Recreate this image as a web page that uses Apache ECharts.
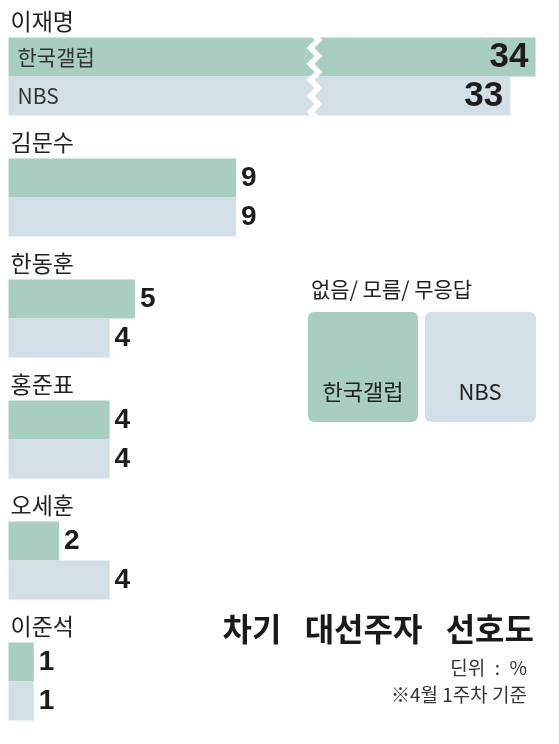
<!DOCTYPE html>
<html>
<head>
<meta charset="utf-8">
<script src="https://cdn.jsdelivr.net/npm/echarts@6/dist/echarts.min.js"></script>
<style>
html, body { margin: 0; padding: 0; background: #fff; }
#ech { width: 559px; height: 744px; }
</style>
</head>
<body>
<div id="ech"></div>
<script>
var candidates = ['이재명', '김문수', '한동훈', '홍준표', '오세훈', '이준석'];
var gallup = [34, 9, 5, 4, 2, 1];
var nbs = [33, 9, 4, 4, 4, 1];
var seriesNames = ['한국갤럽', 'NBS'];
var noAnswerTitle = '없음/ 모름/ 무응답';
var titleText = '차기\u2002 대선주자\u2002 선호도';
var unitText = '딘위\u2002:\u2002%';
var noteText = '※4월 1주차 기준';

var colors = ['#a7cebe', '#d2dfe6'];
var krFont = "'Noto Sans CJK KR', 'Noto Sans', sans-serif";
var numFont = "'Liberation Sans', Arial, sans-serif";

function valueItems(values) {
	// 긴 막대(축 생략 구간을 지나는 막대)는 값을 막대 안쪽에 크게 표시
	return values.map(function(v) {
		if (v > 20) {
			return { value: v, label: { position: 'insideRight', distance: 7, fontSize: 35 } };
		}
		return v;
	});
}

function barSeries(name, values, color) {
	return {
		name: name,
		type: 'bar',
		yAxisIndex: 0,
		barWidth: 39,
		barGap: '0%',
		itemStyle: { color: color },
		label: {
			show: true,
			position: 'right',
			distance: 5,
			fontFamily: numFont,
			fontWeight: 'bold',
			fontSize: 28,
			color: '#1c1c1c'
		},
		data: valueItems(values)
	};
}

function nameSeries(name, values) {
	// 첫 막대 안에 조사기관 이름을 쓰기 위한 투명 막대
	return {
		name: name + '-name',
		type: 'bar',
		yAxisIndex: 1,
		barWidth: 39,
		barGap: '0%',
		silent: true,
		z: 5,
		itemStyle: { color: 'rgba(0,0,0,0)' },
		label: {
			show: true,
			position: 'insideLeft',
			distance: 9,
			fontFamily: krFont,
			fontSize: 21,
			color: '#333',
			formatter: function(p) {
				return p.dataIndex === 0 ? name : '';
			}
		},
		data: values
	};
}

var myChart = echarts.init(document.getElementById('ech'));

var option = {
	animation: false,
	backgroundColor: '#fff',
	grid: {
		left: 8.5,
		right: 8.3,
		top: 16,
		bottom: 2,
		outerBoundsMode: 'none'
	},
	xAxis: {
		type: 'value',
		min: 0,
		max: 34.6,
		axisLine: { show: false },
		axisTick: { show: false },
		axisLabel: { show: false },
		splitLine: { show: false },
		breaks: [{ start: 11.95, end: 25.4, gap: 0.3 }],
		breakArea: {
			show: true,
			expandOnClick: false,
			zigzagAmplitude: 4,
			zigzagMinSpan: 8,
			zigzagMaxSpan: 8,
			itemStyle: {
				color: '#fff',
				borderColor: '#fff',
				borderWidth: 0,
				opacity: 1
			}
		}
	},
	yAxis: [{
		type: 'category',
		inverse: true,
		data: candidates,
		axisLine: { show: false },
		axisTick: { show: false },
		splitLine: { show: false },
		axisLabel: {
			inside: true,
			interval: 0,
			margin: 2,
			align: 'left',
			verticalAlign: 'middle',
			formatter: function(v) {
				return '{n|' + v + '}\n{s| }';
			},
			rich: {
				n: { fontFamily: krFont, fontSize: 23, lineHeight: 24, color: '#222' },
				s: { fontSize: 10, height: 110, lineHeight: 110 }
			}
		}
	}, {
		type: 'category',
		inverse: true,
		data: candidates,
		show: false
	}],
	series: [
		barSeries(seriesNames[0], gallup, colors[0]),
		barSeries(seriesNames[1], nbs, colors[1]),
		nameSeries(seriesNames[0], gallup),
		nameSeries(seriesNames[1], nbs)
	],
	graphic: [
		{
			type: 'text', zlevel: 1, left: 311, top: 279,
			style: { text: noAnswerTitle, font: '21px ' + krFont, fill: '#222' }
		},
		{
			type: 'rect', zlevel: 1,
			shape: { x: 308, y: 312, width: 110, height: 110, r: 6 },
			style: { fill: colors[0] }
		},
		{
			type: 'rect', zlevel: 1,
			shape: { x: 425, y: 312, width: 111, height: 110, r: 6 },
			style: { fill: colors[1] }
		},
		{
			type: 'text', zlevel: 1, z: 10, x: 363, y: 392,
			style: { text: seriesNames[0], font: '22px ' + krFont, fill: '#222', align: 'center', verticalAlign: 'middle' }
		},
		{
			type: 'text', zlevel: 1, z: 10, x: 480, y: 392,
			style: { text: seriesNames[1], font: '22px ' + krFont, fill: '#222', align: 'center', verticalAlign: 'middle' }
		},
		{
			type: 'text', zlevel: 1, x: 534, y: 629,
			style: { text: titleText, font: 'bold 32px ' + krFont, fill: '#1a1a1a', align: 'right', verticalAlign: 'middle' }
		},
		{
			type: 'text', zlevel: 1, x: 527, y: 668,
			style: { text: unitText, font: '19px ' + krFont, fill: '#333', align: 'right', verticalAlign: 'middle' }
		},
		{
			type: 'text', zlevel: 1, x: 527, y: 695,
			style: { text: noteText, font: '19px ' + krFont, fill: '#333', align: 'right', verticalAlign: 'middle' }
		}
	]
};

myChart.setOption(option);
</script>
</body>
</html>
